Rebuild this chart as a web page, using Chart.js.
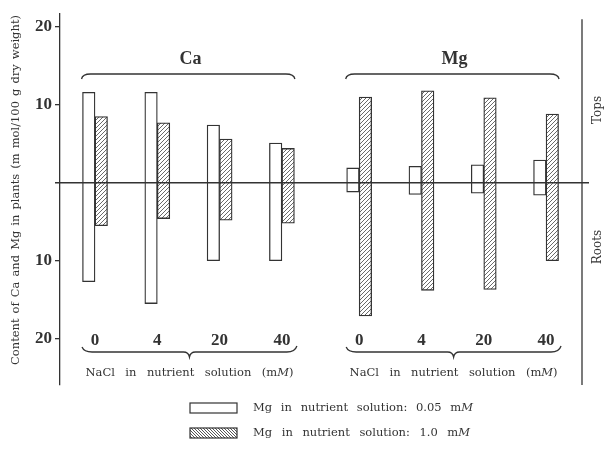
<!DOCTYPE html>
<html>
<head>
<meta charset="utf-8">
<script src="https://cdn.jsdelivr.net/npm/chart.js@4.4.1/dist/chart.umd.min.js"></script>
<style>
  body { margin: 0; background: #fff; }
</style>
</head>
<body>
<canvas id="chart" width="607" height="452"></canvas>
<script>
// NaCl in nutrient solution (mM), element groups, series
const naclLevels = ['0', '4', '20', '40'];
const elements = ['Ca', 'Mg'];
const seriesNames = ['Mg in nutrient solution: 0.05 m{M}', 'Mg in nutrient solution: 1.0 m{M}'];

// content (m mol/100 g dry weight): tops go up, roots go down
const caTopsLow = [11.6, 11.6, 7.4, 5.1];
const caTopsHigh = [8.5, 7.7, 5.6, 4.4];
const caRootsLow = [12.7, 15.5, 10.0, 10.0];
const caRootsHigh = [5.5, 4.6, 4.8, 5.2];

const mgTopsLow = [1.9, 2.1, 2.3, 2.9];
const mgTopsHigh = [11.0, 11.8, 10.9, 8.8];
const mgRootsLow = [1.2, 1.5, 1.35, 1.6];
const mgRootsHigh = [17.1, 13.8, 13.7, 10.0];

const yTicks = [20, 10, -10, -20];

const yTitle = 'Content of Ca and Mg in plants (m mol/100 g dry weight)';
const xTitle = 'NaCl in nutrient solution (m{M})';

// layout
const groupStep = 4.24;   // Mg group starts this far from Ca group (in category units)
const serif = '"Liberation Serif", "DejaVu Serif", serif';
const wide = '"DejaVu Serif", serif';
const ink = '#333';

function toBars(tops, roots, group) {
    return tops.map((t, i) => ({ x: group * groupStep + i, y: [-roots[i], t] }));
}

function hatch(dir, step, color, width) {
    const c = document.createElement('canvas');
    c.width = step; c.height = step;
    const g = c.getContext('2d');
    g.fillStyle = '#fff';
    g.fillRect(0, 0, step, step);
    g.strokeStyle = color;
    g.lineWidth = width;
    g.beginPath();
    if (dir === '/') {
        g.moveTo(-1, step + 1); g.lineTo(step + 1, -1);
        g.moveTo(-1, 1); g.lineTo(1, -1);
        g.moveTo(step - 1, step + 1); g.lineTo(step + 1, step - 1);
    } else {
        g.moveTo(-1, -1); g.lineTo(step + 1, step + 1);
        g.moveTo(step - 1, -1); g.lineTo(step + 1, 1);
        g.moveTo(-1, step - 1); g.lineTo(1, step + 1);
    }
    g.stroke();
    return g.createPattern(c, 'repeat');
}

const barHatch = hatch('/', 4, '#6a6a6a', 1);
const legendHatch = hatch('\\', 3, '#555', 1);

// split "text m{M}" into [text, italic?] segments per word
function parseWords(str) {
    return str.split(' ').map(w => w.split(/(\{[^}]*\})/).filter(s => s).map(s =>
        s[0] === '{' ? [s.slice(1, -1), true] : [s, false]));
}

function drawSpread(ctx, str, x, y, width, size, align) {
    const words = parseWords(str);
    const fontOf = it => (it ? 'italic ' : '') + size + 'px ' + wide;
    const widths = words.map(w => w.reduce((s, seg) => {
        ctx.font = fontOf(seg[1]);
        return s + ctx.measureText(seg[0]).width;
    }, 0));
    const total = widths.reduce((a, b) => a + b, 0);
    const gap = words.length > 1 ? (width - total) / (words.length - 1) : 0;
    let cx = align === 'left' ? x : x - width / 2;
    ctx.textAlign = 'left';
    ctx.textBaseline = 'middle';
    words.forEach(w => {
        w.forEach(seg => {
            ctx.font = fontOf(seg[1]);
            ctx.fillText(seg[0], cx, y);
            cx += ctx.measureText(seg[0]).width;
        });
        cx += gap;
    });
}

function topBrace(ctx, x1, x2, y) {
    ctx.beginPath();
    ctx.moveTo(x1, y + 5);
    ctx.quadraticCurveTo(x1 + 1, y, x1 + 9, y);
    ctx.lineTo(x2 - 9, y);
    ctx.quadraticCurveTo(x2 - 1, y, x2, y + 5);
    ctx.stroke();
}

function bottomBrace(ctx, x1, x2, y) {
    const mid = (x1 + x2) / 2;
    ctx.beginPath();
    ctx.moveTo(x1, y - 5);
    ctx.quadraticCurveTo(x1 + 2, y, x1 + 10, y);
    ctx.lineTo(mid - 6, y);
    ctx.quadraticCurveTo(mid - 1, y, mid, y + 5);
    ctx.quadraticCurveTo(mid + 1, y, mid + 6, y);
    ctx.lineTo(x2 - 10, y);
    ctx.quadraticCurveTo(x2 - 2, y, x2, y - 6);
    ctx.stroke();
}

const decorations = {
    id: 'decorations',
    afterDraw(chart) {
        const { ctx, chartArea } = chart;
        const xs = chart.scales.x;
        const ys = chart.scales.y;
        const zero = ys.getPixelForValue(0);
        ctx.save();
        ctx.strokeStyle = ink;
        ctx.fillStyle = ink;

        // zero line across tops/roots
        ctx.lineWidth = 1.4;
        ctx.beginPath();
        ctx.moveTo(chartArea.left - 5, zero);
        ctx.lineTo(chartArea.right + 7, zero);
        ctx.stroke();

        // right-hand line
        ctx.lineWidth = 1.3;
        ctx.beginPath();
        ctx.moveTo(chartArea.right, chartArea.top + 6);
        ctx.lineTo(chartArea.right, chartArea.bottom);
        ctx.stroke();

        // Tops / Roots
        ctx.save();
        ctx.translate(chartArea.right + 16, 0);
        ctx.rotate(-Math.PI / 2);
        ctx.font = '12px ' + wide;
        ctx.textAlign = 'center';
        ctx.textBaseline = 'middle';
        ctx.fillText('Tops', -110, 0);
        ctx.fillText('Roots', -247, 0);
        ctx.restore();

        // y title
        ctx.save();
        ctx.translate(16, 190);
        ctx.rotate(-Math.PI / 2);
        drawSpread(ctx, yTitle, 0, 0, 350, 11.5, 'center');
        ctx.restore();

        // group braces, element names, NaCl levels
        elements.forEach((el, g) => {
            const first = xs.getPixelForValue(g * groupStep);
            const last = xs.getPixelForValue(g * groupStep + naclLevels.length - 1);
            ctx.lineWidth = 1.3;
            topBrace(ctx, first - 13.5, last + 13, 74);
            bottomBrace(ctx, first - 13, last + 15, 352);

            ctx.font = 'bold 18px ' + serif;
            ctx.textAlign = 'center';
            ctx.textBaseline = 'middle';
            ctx.fillText(el, (first + last) / 2 + 2, 59);

            ctx.font = 'bold 17px ' + serif;
            naclLevels.forEach((lv, i) => {
                const px = xs.getPixelForValue(g * groupStep + i);
                ctx.fillText(lv, px, 341);
            });

            drawSpread(ctx, xTitle, (first + last) / 2 + 1, 373, 208, 11.5, 'center');
        });

        // legend
        chart.data.datasets.forEach((ds, i) => {
            const ly = 403 + i * 25;
            ctx.fillStyle = i === 0 ? ds.backgroundColor : legendHatch;
            ctx.fillRect(190, ly, 47, 10);
            ctx.lineWidth = 1.2;
            ctx.strokeRect(190, ly, 47, 10);
            ctx.fillStyle = ink;
            drawSpread(ctx, ds.label, 253, ly + 5.5, i === 0 ? 220 : 217, 11.5, 'left');
        });
        ctx.restore();
    }
};

new Chart(document.getElementById('chart'), {
    type: 'bar',
    data: {
        datasets: [
            {
                label: seriesNames[0],
                data: toBars(caTopsLow, caRootsLow, 0).concat(toBars(mgTopsLow, mgRootsLow, 1)),
                backgroundColor: '#fff',
                borderColor: ink,
                borderWidth: 1.3,
                borderSkipped: false,
                barThickness: 12.5
            },
            {
                label: seriesNames[1],
                data: toBars(caTopsHigh, caRootsHigh, 0).concat(toBars(mgTopsHigh, mgRootsHigh, 1)),
                backgroundColor: barHatch,
                borderColor: ink,
                borderWidth: 1.3,
                borderSkipped: false,
                barThickness: 12.5
            }
        ]
    },
    options: {
        responsive: false,
        animation: false,
        devicePixelRatio: 1,
        layout: { padding: { left: 0, right: 25, top: 13, bottom: 67 } },
        plugins: { legend: { display: false }, tooltip: { enabled: false } },
        scales: {
            x: {
                type: 'linear',
                display: false,
                offset: false,
                grid: { offset: false },
                min: -0.562,
                max: 7.817
            },
            y: {
                min: -25.95,
                max: 21.75,
                afterFit: scale => { scale.width = 60; },
                afterBuildTicks: scale => { scale.ticks = yTicks.map(v => ({ value: v })); },
                border: { display: true, color: ink, width: 1.3 },
                grid: { drawOnChartArea: false, drawTicks: true, tickLength: 5, color: ink, lineWidth: 1.3 },
                ticks: {
                    padding: 3,
                    color: ink,
                    font: { family: serif, size: 17, weight: 'bold' },
                    callback: v => Math.abs(v)
                }
            }
        }
    },
    plugins: [decorations]
});
</script>
</body>
</html>
